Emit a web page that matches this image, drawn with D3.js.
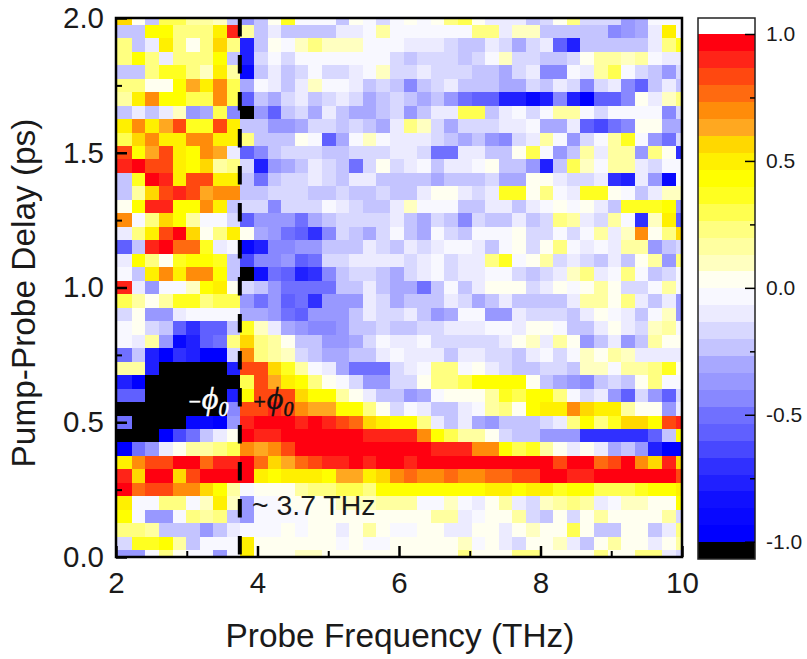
<!DOCTYPE html>
<html>
<head>
<meta charset="utf-8">
<script src="https://cdn.jsdelivr.net/npm/d3@7"></script>
<style>
  html, body { margin: 0; background: #fff; }
  svg { display: block; }
  text { font-family: "Liberation Sans", Arial, sans-serif; fill: #1a1a1a; }
</style>
</head>
<body>
<svg id="chart" width="807" height="659"></svg>
<script>
// Delay of each row (ps), top to bottom: 2.00, 1.95 ... 0.00
const delayStep = 0.05;
const delays = d3.range(40, -1, -1).map(i => i * delayStep);

// Frequency bins (THz): the first one starts at 2, the others at firstEdge + k * freqStep
const firstEdge = 2.222;
const freqStep = 0.1922;

// Signal in hundredths, one list per delay (-105 = black, below -1)
const signal = [
  [60,5,-25,30,30,15,15,10,-25,-35,-25,5,35, -3,-3,-3,-25,0,-5,-15,-5,0,-3,3,20,30,3, -12,-8,-10,-20,-15,3,25,-15,-15,-15,-40,-30,-3,-3,-3],
  [-20,-20,45,45,25,25,20,50,88,15,-20,-10,-20, -20,-20,-20,-8,-10,-3,15,-3,-3,-3,-3,-3,-3,25, 25,-10,10,10,-20,-20,-20,-25,-25,-45,-40,-30,-10,50,-3],
  [25,-20,-7,50,25,5,25,55,20,-75,-20,0,-3, 8,25,10,10,10,-3,-3,-3,-10,-10,-10,-18,-25,-25, -8,-15,-30,-15,-8,-55,-75,-25,-20,-20,-20,-25,-8,25,35],
  [20,45,25,-7,20,20,20,45,-20,-75,-15,-5,-15, -3,-3,-3,-3,-3,-3,-3,-18,-25,-15,-15,-15,-25,-18, -3,10,-15,-15,-20,-25,-15,5,18,18,10,18,-3,-8,-8],
  [-20,-20,25,35,35,25,10,50,15,-90,-25,-10,-25, -15,-3,-18,-18,-12,-3,10,-18,-18,-8,-15,-15,-15,-25, -20,-30,-15,-8,-45,-45,-3,-10,15,30,-3,-15,-25,-40,-15],
  [25,20,5,5,45,62,50,68,30,-30,-3,-10,-25, -10,8,-5,-5,-10,-25,-18,-25,-45,-25,-15,-8,-25,-25, -20,-30,-30,-15,-20,-8,-15,-45,-15,-8,-45,-55,-25,-8,-25],
  [15,50,70,40,40,30,30,70,30,-60,-20,-30,-15, -10,-25,-18,-8,-18,-30,-25,-18,-25,-30,-25,-35,-50,-55, -60,-75,-80,-90,-80,-45,-75,-95,-60,-60,-45,5,-8,8,25],
  [-25,-7,-20,-7,10,-40,-30,30,-45,-105,-40,-60,-20, -18,-30,-8,-25,-30,-30,-25,-18,-35,-25,-8,-8,30,30, -20,-10,-3,-15,-3,15,15,-5,-15,-3,-3,-5,-5,-45,-15],
  [50,70,50,62,80,35,35,80,50,-25,-25,-35,-35, -30,-18,-18,-25,-18,-25,-30,-10,25,8,-15,-30,-18,-18, -15,-8,-8,-3,-30,-30,-10,-55,-65,-50,-45,5,5,-30,-30],
  [30,55,72,50,50,72,68,50,50,20,-25,-20,-20, 5,-3,-55,-30,-3,8,-3,-8,-8,-8,-15,-25,-30,-25, -35,-45,-18,-10,15,-3,-40,-15,-3,15,35,-3,-40,-50,-15],
  [85,40,62,82,50,40,68,62,-12,-55,-45,-25,-15, -15,-15,-25,-25,-18,-18,-15,-8,-8,-15,-50,-50,-8,-8, -20,-20,3,30,-3,-40,-20,15,-8,15,15,-40,25,3,-70],
  [92,95,82,82,50,40,60,15,25,-15,-80,-35,-30, -25,-8,-15,-25,-50,-15,5,-18,-8,-3,-25,-10,-10,-3, 3,-25,-25,-40,-75,-25,30,10,-3,15,15,-8,-15,-3,-3],
  [-25,35,97,90,50,85,82,50,50,-20,-50,-25,-15, -15,-8,-15,-25,-10,-10,-25,-25,-25,-25,-30,-20,-20,-20, -15,-30,-30,3,3,-10,-15,-15,-10,-70,-80,-10,-40,-90,-3],
  [-20,15,55,82,92,82,62,72,72,-20,-25,-15,-15, -15,-20,-20,-15,-20,-20,-15,-20,-20,-8,5,5,-8,-15, -10,35,35,3,20,-3,-10,35,35,3,-3,-25,-12,12,12],
  [5,40,90,90,45,40,72,50,-25,-15,-15,-45,-15, -15,-15,-3,-8,-15,-20,-20,-8,8,-3,-3,-3,-20,-20, -12,-12,-25,-10,-3,3,-3,3,-10,-20,35,35,35,45,-35],
  [72,-3,20,60,45,15,-3,-3,-15,-60,-35,-35,-35, -50,-30,-20,-15,-15,-15,-15,-8,-20,-30,-15,-20,-45,-15, -20,-20,-10,-25,-15,25,18,-8,-15,15,-3,-70,8,50,-55],
  [-12,25,50,85,97,60,3,20,50,3,-30,-40,-50, -55,-70,-45,-15,-25,-30,-15,-3,-20,-30,-3,-15,-20,-3, -3,-3,5,-15,-15,-3,-15,-3,18,-8,10,72,3,20,55],
  [-55,-25,88,97,75,75,35,-12,-3,-90,-75,-45,-45, -35,-35,-25,-25,-25,-8,-15,-20,-8,-15,-8,-3,-3,-8, -20,-3,3,-15,3,20,-3,-8,-3,-8,15,15,-35,-20,-15],
  [-12,45,25,5,35,40,40,35,-25,-65,-45,-45,-40, -55,-50,-15,-15,-8,-8,-8,-8,-15,-8,-3,-15,-8,-8, 25,35,-3,3,15,-15,-10,-15,-25,-10,-20,3,15,-35,20],
  [-5,-20,50,70,50,68,72,45,-25,-105,-85,-50,-60, -75,-70,-45,-20,-15,-15,-25,-30,-15,-8,-3,-15,-8,-8, -3,-3,-15,-20,-15,-8,12,20,-8,-3,25,-3,-20,-15,-3],
  [92,-10,-40,-5,-5,10,45,50,3,-15,-20,-40,-50, -50,-50,-50,-25,-20,-12,-20,-30,-30,-50,-20,-5,-20,-8, 3,3,3,-15,-10,3,-3,3,15,3,-15,-15,-3,15,-5],
  [30,15,5,15,35,35,25,30,30,-35,-50,-40,-55, -50,-70,-40,-35,-35,-12,-15,-30,-20,-25,-25,-8,-15,-30, -20,-10,-20,-25,-25,-20,-10,15,15,3,20,-8,-20,-12,-40],
  [-15,5,-38,-38,-10,-5,-5,-5,-5,-30,-30,-35,-50, -55,-40,-40,-35,-25,-12,-18,-18,-12,-25,-40,-30,-5,-3, -40,-40,-10,-15,-15,-15,-25,-8,3,-3,-8,-20,-3,10,-35],
  [-3,5,-15,-25,-55,-70,-55,-55,-20,35,8,-8,-30, -35,-45,-45,-35,-25,-25,-18,-25,-25,-15,-15,-10,-10,-10, -3,-3,-8,3,3,-3,-20,-20,-8,3,-8,-15,10,15,-3],
  [-3,-10,15,-40,-90,-75,-60,-50,25,60,20,15,3, -25,-25,-40,-40,-30,-18,-3,-10,-10,-3,-18,-18,-18,-18, -15,-10,3,10,-10,15,3,-40,-25,-10,-40,-20,15,3,3],
  [-50,-20,-80,-95,-70,-80,-95,-95,-15,70,20,15,10, -15,-20,-30,-30,-25,-25,-10,-3,-10,-10,-10,-20,-8,-8, -18,-18,-25,-8,-3,-18,-3,8,3,15,10,-10,-10,-10,-10],
  [15,15,-80,-105,-105,-105,-105,-105,-75,85,85,55,35, 15,-3,-12,-30,-50,-50,-50,-18,-12,-3,25,25,-3,5, -12,-18,-20,-25,-15,-15,-25,10,10,-3,15,15,20,35,3],
  [-80,-97,-105,-105,-105,-105,-105,-105,-105,30,82,62,50, 45,25,3,-5,-18,-35,-35,-18,-18,0,20,20,30,40, 40,40,40,3,-20,-30,-35,-45,-25,-15,-20,3,25,-3,-3],
  [-60,-55,-105,-105,-105,-105,-105,-105,-80,45,85,82,82, 60,45,40,15,3,-10,-25,-25,-35,-30,-5,3,3,3, 15,35,30,40,45,25,-3,-15,-10,-40,-55,-15,-35,-60,-15],
  [-105,-105,-105,-105,-105,-105,-105,-105,-45,85,85,90,80, 72,62,62,45,40,25,3,-15,-3,-10,-20,-20,-12,-3, 15,25,3,40,50,48,68,60,50,50,15,5,5,-40,-10],
  [-50,-105,-105,-105,-105,-90,-90,-95,-40,90,95,95,97, 88,97,88,82,78,60,48,45,45,25,-10,-20,-10,-30, -40,-25,-20,-20,-15,-10,25,40,25,35,55,55,45,85,90],
  [-105,-105,-105,-97,-65,-50,-25,-12,0,95,90,88,97, 97,97,97,97,97,88,88,88,88,68,45,30,15,15, 3,-15,-20,-25,-40,-40,-40,-70,-70,-70,-70,-70,-55,-20,40],
  [-95,-50,-40,-12,3,15,15,25,30,72,62,72,85, 97,97,97,97,97,97,97,97,97,97,92,92,88,68, 68,45,30,35,15,3,-8,3,-8,-30,-20,-40,-75,-95,-100],
  [50,70,80,80,95,95,75,90,90,97,75,60,65, 75,82,88,90,97,92,97,97,90,97,97,97,97,97, 97,97,97,97,97,85,97,97,75,85,97,68,60,92,58],
  [88,60,95,95,60,85,97,97,97,97,50,45,50, 50,50,45,65,65,48,60,72,78,68,68,78,68,68, 78,75,80,85,97,97,92,92,97,97,97,97,97,97,82],
  [97,75,82,82,68,68,55,45,15,-5,3,5,5, 15,25,25,30,30,25,40,40,40,40,45,45,45,45, 50,50,40,48,48,35,40,40,30,30,30,35,45,45,50],
  [50,-3,-3,25,25,-3,10,50,8,-35,-5,-5,3, 3,3,5,10,10,10,15,15,15,-3,-3,8,-3,-12, 3,15,-10,-15,12,15,25,15,-10,-5,10,10,5,5,45],
  [40,-3,-35,-35,-5,25,15,20,-20,-35,-3,-3,-3, -3,3,5,3,5,3,3,5,5,5,18,18,-12,-3, 3,3,18,-15,-20,3,-15,3,18,3,3,3,5,15,-15],
  [25,25,15,-25,-25,-25,-35,-25,-8,-3,-3,-3,3, -3,3,5,-10,3,15,3,-3,-3,3,3,-10,-10,3, 3,-8,3,10,3,3,30,3,-25,-25,3,3,-25,-10,20],
  [-15,35,35,45,15,-20,-3,-3,-3,50,5,3,3, 3,3,3,-3,3,-3,-3,3,3,3,3,3,12,-3, 3,-8,-15,3,3,10,-10,-25,3,15,3,3,-10,3,15],
  [-40,-35,-3,20,5,-5,-5,-35,-3,50,5,3,3, 10,10,5,5,5,5,3,3,3,3,3,3,20,3, 5,3,20,20,5,3,3,3,25,3,3,20,20,-10,-15]
];

// Colour bar levels, from -1 to 1 in steps of 1/15
const levelStep = 1 / 15;
const negColors = ["#0000ff","#0808ff","#1010ff","#2020ff","#3030ff","#4848ff","#6060ff","#7070ff","#8888ff","#9898ff","#a8a8ff","#c4c4ff","#d8d8ff","#ecebff","#f8f8ff"];
const posColors = ["#fffff0","#ffffc0","#ffffa0","#ffff80","#ffff50","#ffff20","#ffff00","#fff000","#ffd800","#ffa820","#ff8c0a","#ff6a10","#ff4810","#ff2418","#ff0010"];
const levelColors = negColors.concat(posColors);

const xTicks = [2, 4, 6, 8, 10];
const xMinor = [3, 5, 7, 9];
const yTicks = [0, 0.5, 1, 1.5, 2];
const yMinor = [0.25, 0.75, 1.25, 1.75];
const barTicks = [-1, -0.5, 0, 0.5, 1];
const barMinor = [-0.75, -0.25, 0.25, 0.75];

const svg = d3.select("#chart");

// Scales
const x = d3.scaleLinear().domain([2, 10]).range([116, 682]).clamp(true);
const y = d3.scaleLinear().domain([0, 2]).range([557, 18]).clamp(true);
const barY = d3.scaleLinear().domain([-1, 1]).range([541.7, 34]);
const thresholds = d3.range(1, 30).map(i => -1 + i * levelStep);
const color = d3.scaleThreshold()
  .domain([-1].concat(thresholds))
  .range(["#000000"].concat(levelColors));

// Heat map cells
const rows = svg.append("g").attr("class", "cells").attr("shape-rendering", "crispEdges")
  .style("filter", "blur(0.7px)")
  .selectAll("g").data(signal).enter().append("g");

rows.each(function (row, r) {
  const top = y(delays[r] + delayStep / 2);
  const bottom = y(delays[r] - delayStep / 2);
  d3.select(this).selectAll("rect").data(row).enter().append("rect")
    .attr("x", (d, c) => x(c === 0 ? 2 : firstEdge + (c - 1) * freqStep))
    .attr("width", (d, c) => x(firstEdge + c * freqStep) - x(c === 0 ? 2 : firstEdge + (c - 1) * freqStep))
    .attr("y", top)
    .attr("height", bottom - top)
    .attr("fill", d => color(d / 100));
});

// Dashed line at 3.75 THz
svg.append("line")
  .attr("x1", x(3.75)).attr("x2", x(3.75))
  .attr("y1", y(2)).attr("y2", y(0))
  .attr("stroke", "#000").attr("stroke-width", 4)
  .attr("stroke-dasharray", "18.5 18.5");

// Frame and axes
svg.append("rect")
  .attr("x", x(2)).attr("y", y(2))
  .attr("width", x(10) - x(2)).attr("height", y(0) - y(2))
  .attr("fill", "none").attr("stroke", "#000").attr("stroke-width", 2.5);

function styleAxis(g, size, width) {
  g.select(".domain").remove();
  g.selectAll("line").attr("stroke", "#000").attr("stroke-width", width);
  g.selectAll("text").style("font-size", size + "px");
}

svg.append("g").attr("transform", `translate(0,${y(0)})`)
  .call(d3.axisBottom(x).tickValues(xTicks).tickSize(-11).tickPadding(15).tickFormat(d3.format("d")))
  .call(styleAxis, 29.5, 2.5);
svg.append("g").attr("transform", `translate(0,${y(0)})`)
  .call(d3.axisBottom(x).tickValues(xMinor).tickSize(-6).tickFormat(""))
  .call(styleAxis, 29.5, 2);
svg.append("g").attr("transform", `translate(${x(2)},0)`)
  .call(d3.axisLeft(y).tickValues(yTicks).tickSize(-11).tickPadding(12).tickFormat(d3.format(".1f")))
  .call(styleAxis, 29.5, 2.5);
svg.append("g").attr("transform", `translate(${x(2)},0)`)
  .call(d3.axisLeft(y).tickValues(yMinor).tickSize(-6).tickFormat(""))
  .call(styleAxis, 29.5, 2);

// Axis titles
svg.append("text")
  .attr("x", 400).attr("y", 647)
  .attr("text-anchor", "middle")
  .style("font-size", "33.4px")
  .text("Probe Frequency (THz)");
svg.append("text")
  .attr("transform", "translate(35,293) rotate(-90)")
  .attr("text-anchor", "middle")
  .style("font-size", "33.4px")
  .text("Pump-Probe Delay (ps)");

// Annotations
function phiLabel(px, py, sign, fill) {
  const t = svg.append("text").attr("x", px).attr("y", py)
    .style("font-family", "'Liberation Serif', serif")
    .style("font-style", "italic")
    .style("fill", fill)
    .style("stroke", fill)
    .style("stroke-width", 0.5);
  t.append("tspan").style("font-size", "22px").text(sign);
  t.append("tspan").style("font-size", "32px").text("\u03d5");
  t.append("tspan").attr("dy", 7).style("font-size", "20px").text("0");
}
phiLabel(187, 409, "\u2212", "#fff");
phiLabel(252, 409, "+", "#111");

svg.append("text")
  .attr("x", 252).attr("y", 515)
  .style("font-size", "28.4px")
  .text("~ 3.7 THz");

// Colour bar
const bar = svg.append("g").attr("shape-rendering", "crispEdges");
const barX = 698, barW = 57;
bar.selectAll("rect").data(levelColors).enter().append("rect")
  .attr("x", barX).attr("width", barW)
  .attr("y", (d, i) => barY(-1 + (i + 1) * levelStep))
  .attr("height", barY(-1) - barY(-1 + levelStep) + 0.5)
  .attr("fill", d => d);
bar.append("rect")
  .attr("x", barX).attr("width", barW)
  .attr("y", barY(-1)).attr("height", 559 - barY(-1))
  .attr("fill", "#000");

svg.append("rect")
  .attr("x", barX).attr("y", 18).attr("width", barW).attr("height", 541)
  .attr("fill", "none").attr("stroke", "#222").attr("stroke-width", 1.5);

svg.append("g").attr("transform", `translate(${barX + barW},0)`)
  .call(d3.axisRight(barY).tickValues(barTicks).tickSize(-10).tickPadding(11).tickFormat(d => d.toFixed(1)))
  .call(styleAxis, 21, 1.5);
svg.append("g").attr("transform", `translate(${barX + barW},0)`)
  .call(d3.axisRight(barY).tickValues(barMinor).tickSize(-5).tickFormat(""))
  .call(styleAxis, 21, 1.5);
</script>
</body>
</html>
